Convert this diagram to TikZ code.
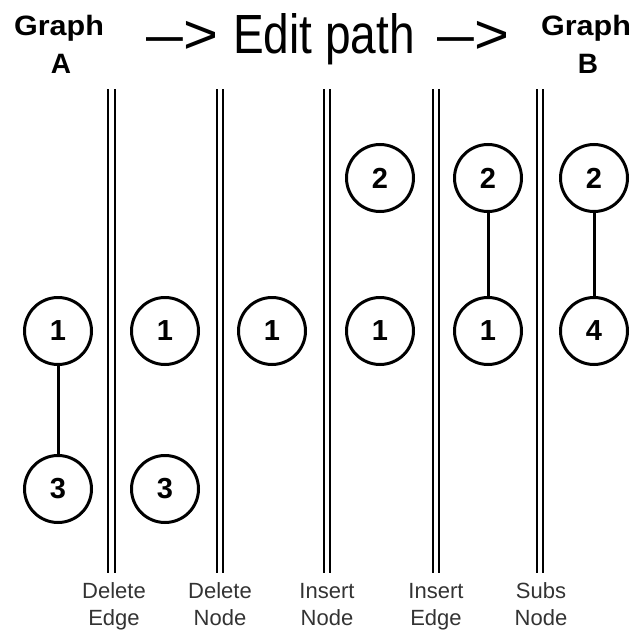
\documentclass[tikz,border=0pt]{standalone}
\usepackage{fontspec}
\setmainfont{Liberation Sans}
\usepackage{graphicx}
\begin{document}
\begin{tikzpicture}[x=1pt,y=-1pt,
  gnode/.style={circle,draw,line width=3pt,minimum size=67pt,inner sep=0pt,
    font=\fontsize{29}{29}\selectfont\bfseries},
  gedge/.style={line width=3pt},
  sep/.style={line width=2.2pt},
  steplabel/.style={anchor=base,inner sep=0pt,text=black!80,font=\fontsize{22}{22}\selectfont},
  titlebold/.style={anchor=base,inner sep=0pt,font=\fontsize{28}{28}\selectfont\bfseries},
  titlebig/.style={anchor=base west,inner sep=0pt,font=\fontsize{46}{46}\selectfont}]
\useasboundingbox (0,0) rectangle (642,634);

% title
\node[titlebold] (ga) at (59,36) {\scalebox{1.09}[1]{Graph}};
\node[titlebold] (a) at (61,74) {A};
\node[titlebold] (gb) at (586,36) {\scalebox{1.09}[1]{Graph}};
\node[titlebold] (b) at (588,74) {B};
\node[titlebig] (arr1) at (146,53) {\scalebox{0.8}[1.2]{—}\scalebox{1.3}[1.2]{>}};
\node[titlebig] (ep) at (233,53) {\scalebox{1}[1.2]{Edit path}};
\node[titlebig] (arr2) at (437,53) {\scalebox{0.8}[1.2]{—}\scalebox{1.3}[1.2]{>}};

% separators
\foreach \x in {111.5,220,327,436,540}{
  \draw[sep] (\x-3.3,89) -- (\x-3.3,573);
  \draw[sep] (\x+3.3,89) -- (\x+3.3,573);
}

% step labels
\node[steplabel] (l1a) at (114,598) {Delete};
\node[steplabel] (l1b) at (114,625) {Edge};
\node[steplabel] (l2a) at (220,598) {Delete};
\node[steplabel] (l2b) at (220,625) {Node};
\node[steplabel] (l3a) at (327,598) {Insert};
\node[steplabel] (l3b) at (327,625) {Node};
\node[steplabel] (l4a) at (436,598) {Insert};
\node[steplabel] (l4b) at (436,625) {Edge};
\node[steplabel] (l5a) at (541,598) {Subs};
\node[steplabel] (l5b) at (541,625) {Node};

% graph A
\node[gnode] (a1) at (58,331) {1};
\node[gnode] (a3) at (58,489) {3};
\draw[gedge] (a1) -- (a3);

% after delete edge
\node[gnode] (b1) at (165,331) {1};
\node[gnode] (b3) at (165,489) {3};

% after delete node
\node[gnode] (c1) at (272,331) {1};

% after insert node
\node[gnode] (d2) at (380,178) {2};
\node[gnode] (d1) at (380,331) {1};

% after insert edge
\node[gnode] (e2) at (488,178) {2};
\node[gnode] (e1) at (488,331) {1};
\draw[gedge] (e2) -- (e1);

% graph B
\node[gnode] (f2) at (594,178) {2};
\node[gnode] (f4) at (594,331) {4};
\draw[gedge] (f2) -- (f4);
\end{tikzpicture}
\end{document}
